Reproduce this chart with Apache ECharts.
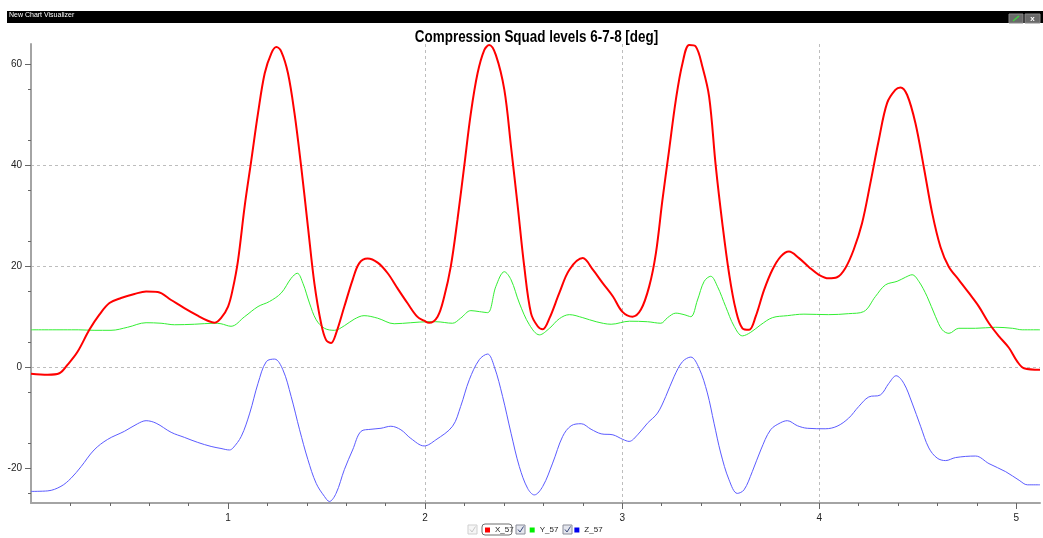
<!DOCTYPE html>
<html>
<head>
<meta charset="utf-8">
<script src="https://cdn.jsdelivr.net/npm/echarts@6/dist/echarts.min.js"></script>
<style>
html,body{margin:0;padding:0;background:#fff;}
#chart{width:1043px;height:538px;}
</style>
</head>
<body>
<div id="chart"></div>
<script>
// ---- data ----
const seriesNames = ['X_57', 'Y_57', 'Z_57'];
const chartTitle = 'Compression Squad levels 6-7-8 [deg]';

const xRed = [0.00,0.085,0.144,0.186,0.237,0.296,0.347,0.398,0.457,0.525,0.584,0.643,0.711,0.778,0.846,0.897,0.931,0.964,1.00,1.024,1.05,1.084,1.118,1.152,1.186,1.22,1.245,1.27,1.304,1.337,1.371,1.405,1.438,1.472,1.497,1.523,1.548,1.59,1.632,1.666,1.708,1.759,1.81,1.86,1.91,1.96,1.995,2.02,2.063,2.097,2.13,2.164,2.198,2.232,2.266,2.30,2.325,2.359,2.402,2.436,2.47,2.503,2.537,2.571,2.597,2.631,2.681,2.732,2.80,2.851,2.902,2.953,3.00,3.052,3.095,3.137,3.171,3.204,3.238,3.272,3.306,3.34,3.373,3.407,3.441,3.475,3.508,3.542,3.576,3.61,3.644,3.677,3.72,3.762,3.804,3.846,3.897,3.948,3.998,4.047,4.09,4.132,4.174,4.217,4.259,4.302,4.344,4.386,4.412,4.446,4.488,4.53,4.573,4.615,4.657,4.708,4.759,4.81,4.861,4.912,4.963,5.005,5.039,5.12];
const yRed = [-1.3,-1.5,-1.2,0.5,3.1,7.4,10.4,12.7,13.7,14.5,15.0,14.9,13.3,11.7,10.2,9.2,8.8,9.7,12.0,15.5,21.0,31.8,41.0,50.3,58.2,62.2,63.4,62.5,58.2,50.3,39.7,27.9,16.6,8.7,5.4,4.8,6.7,12.0,17.3,20.6,21.5,20.7,18.6,15.6,12.7,10.0,9.2,8.8,10.0,14.0,19.9,29.2,39.7,50.3,58.2,62.8,63.8,61.8,54.9,43.6,31.8,19.9,10.7,8.1,7.5,9.7,14.7,19.3,21.6,19.3,16.6,14.0,11.0,10.0,11.4,16.0,22.6,33.1,43.0,52.9,60.2,63.8,63.5,59.5,53.6,39.7,28.5,18.6,11.4,7.7,7.4,10.0,15.3,19.3,21.9,22.9,21.6,19.8,18.3,17.6,17.8,19.6,23.2,28.5,36.4,45.0,52.3,54.9,55.4,53.9,48.3,39.7,30.5,23.8,19.9,17.3,14.7,12.0,8.7,6.1,3.8,1.1,-0.2,-0.5];

const xGreen = [0,0.24,0.32,0.406,0.49,0.584,0.66,0.728,0.829,0.93,0.964,1.015,1.084,1.152,1.21,1.27,1.32,1.351,1.38,1.413,1.447,1.489,1.54,1.59,1.64,1.69,1.759,1.843,1.927,2.012,2.054,2.139,2.18,2.232,2.275,2.317,2.359,2.402,2.436,2.478,2.529,2.58,2.631,2.681,2.732,2.80,2.868,2.944,3.037,3.128,3.196,3.23,3.272,3.314,3.348,3.382,3.416,3.449,3.483,3.525,3.568,3.61,3.652,3.703,3.762,3.838,3.922,4.047,4.149,4.225,4.285,4.336,4.395,4.437,4.471,4.505,4.547,4.59,4.624,4.658,4.708,4.793,4.895,4.98,5.03,5.12];
const yGreen = [7.4,7.4,7.3,7.3,7.9,8.8,8.7,8.4,8.5,8.7,8.6,8.1,10.0,12.0,13.0,14.7,17.6,18.6,16.6,12.7,9.4,7.7,7.3,8.2,9.5,10.2,9.7,8.6,8.8,9.0,9.0,8.7,9.7,11.2,11.0,10.8,16.0,18.9,17.3,12.7,8.4,6.4,7.7,9.6,10.4,9.8,9.0,8.5,9.1,9.0,8.7,9.8,10.7,10.4,10.0,13.3,17.0,18.0,16.0,12.0,8.1,6.2,6.9,8.4,9.8,10.2,10.5,10.4,10.6,11.0,14.0,16.3,17.0,17.8,18.3,17.0,14.0,10.0,7.4,6.7,7.7,7.7,7.9,7.7,7.4,7.4];

const xBlue = [0,0.085,0.152,0.203,0.254,0.32,0.389,0.474,0.541,0.584,0.635,0.711,0.778,0.846,0.914,0.964,1.007,1.025,1.067,1.11,1.152,1.194,1.236,1.278,1.32,1.363,1.405,1.447,1.489,1.514,1.548,1.59,1.632,1.675,1.725,1.776,1.826,1.877,1.927,1.995,2.054,2.139,2.18,2.224,2.275,2.317,2.351,2.393,2.436,2.478,2.52,2.554,2.597,2.647,2.698,2.741,2.792,2.842,2.893,2.953,3.003,3.035,3.078,3.128,3.179,3.221,3.264,3.306,3.348,3.39,3.432,3.466,3.50,3.542,3.584,3.618,3.66,3.703,3.753,3.804,3.838,3.889,3.939,4.03,4.09,4.149,4.20,4.251,4.31,4.353,4.39,4.429,4.471,4.514,4.556,4.598,4.641,4.692,4.793,4.861,4.946,5.014,5.056,5.12];
const yBlue = [-24.6,-24.5,-23.6,-22.0,-19.7,-16.4,-14.3,-12.7,-11.2,-10.6,-11.1,-12.9,-13.9,-14.9,-15.7,-16.1,-16.4,-16.0,-13.7,-9.1,-3.2,1.1,1.6,-0.5,-5.8,-12.4,-18.3,-23.0,-25.6,-26.6,-25.0,-20.3,-16.4,-12.7,-12.3,-12.1,-11.7,-12.4,-14.1,-15.6,-14.4,-11.7,-7.8,-2.5,1.5,2.6,0.1,-5.8,-13.1,-19.7,-24.0,-25.3,-23.6,-19.0,-13.7,-11.6,-11.2,-12.3,-13.2,-13.4,-14.3,-14.7,-13.4,-11.1,-9.1,-5.8,-1.8,1.1,2.0,-0.2,-5.1,-11.1,-17.0,-22.3,-25.0,-24.3,-20.7,-16.4,-12.4,-11.0,-10.6,-11.6,-12.1,-12.2,-11.7,-10.1,-7.8,-5.9,-5.5,-3.2,-1.7,-3.2,-7.1,-11.7,-16.0,-18.0,-18.5,-17.9,-17.6,-19.1,-20.7,-22.4,-23.3,-23.3];

const xTickLabels = [1, 2, 3, 4, 5];
const xMinorTicks = [0.2,0.4,0.6,0.8,1.2,1.4,1.6,1.8,2.2,2.4,2.6,2.8,3.2,3.4,3.6,3.8,4.2,4.4,4.6,4.8];
const yTickLabels = [-20, 0, 20, 40, 60];
const yMinorTicks = [-25,-15,-5,5,15,25,35,45,55];
const xRange = [0, 5.12];
const yRange = [-26.9, 64];

// ---- build ----
const pairs = (xs, ys) => xs.map((x, i) => [x, ys[i]]);
const FONT = 'Liberation Sans';
const axisGrey = '#a4a4a4';
const gridGrey = '#bdbdbd';

function checkbox(x, y, enabled) {
  return {
    type: 'group', x: x, y: y, z: 10,
    children: [
      { type: 'rect', shape: { x: 0, y: 0, width: 9, height: 9 },
        style: { fill: enabled ? '#e4e6ee' : '#f6f6f6', stroke: enabled ? '#8a8d99' : '#cfcfcf', lineWidth: 1 } },
      { type: 'polyline', shape: { points: [[2, 4.5], [4, 7], [7.5, 1.5]] },
        style: { stroke: enabled ? '#3a4a7a' : '#c8c8c8', lineWidth: 1, fill: null } }
    ]
  };
}

const chart = echarts.init(document.getElementById('chart'), null, { renderer: 'canvas' });
chart.setOption({
  animation: false,
  backgroundColor: '#ffffff',
  legend: {
    data: seriesNames, left: 485, top: 526, padding: 0, icon: 'rect',
    itemWidth: 5, itemHeight: 5, itemGap: 16,
    textStyle: { fontFamily: FONT, fontSize: 8, color: '#222' },
    selectedMode: false
  },
  grid: { left: 31, right: 3, top: 44, bottom: 35, containLabel: false },
  xAxis: [{
    type: 'value', min: xRange[0], max: xRange[1], interval: 1, position: 'bottom',
    axisLine: { onZero: false, lineStyle: { color: axisGrey, width: 2 } },
    axisTick: { length: 6, customValues: xTickLabels, lineStyle: { color: '#666', width: 1 } },
    axisLabel: { customValues: xTickLabels, margin: 10, fontFamily: FONT, fontSize: 10, color: '#222' },
    splitLine: { show: true, showMinLine: false, showMaxLine: false, lineStyle: { color: gridGrey, type: [3, 3], width: 1 } }
  }, {
    type: 'value', min: xRange[0], max: xRange[1], position: 'bottom', offset: 0,
    axisLine: { show: false, onZero: false },
    axisTick: { show: true, length: 3, customValues: xMinorTicks, lineStyle: { color: '#666', width: 1 } },
    axisLabel: { show: false },
    splitLine: { show: false }
  }],
  yAxis: [{
    type: 'value', min: yRange[0], max: yRange[1], position: 'left',
    axisLine: { show: true, onZero: false, lineStyle: { color: axisGrey, width: 2 } },
    axisTick: { show: true, length: 6, customValues: yTickLabels, lineStyle: { color: '#666', width: 1 } },
    axisLabel: { customValues: yTickLabels, margin: 9, fontFamily: FONT, fontSize: 10, color: '#222' },
    splitLine: { show: true, showMinLine: false, showMaxLine: false, lineStyle: { color: gridGrey, type: [3, 3], width: 1 } }
  }, {
    type: 'value', min: yRange[0], max: yRange[1], position: 'left', offset: 0,
    axisLine: { show: false, onZero: false },
    axisTick: { show: true, length: 3, customValues: yMinorTicks, lineStyle: { color: '#666', width: 1 } },
    axisLabel: { show: false },
    splitLine: { show: false }
  }],
  series: [
    { name: seriesNames[0], type: 'line', data: pairs(xRed, yRed), showSymbol: false, smooth: 0.35, z: 4,
      itemStyle: { color: '#ff0000' }, lineStyle: { color: '#ff0000', width: 2 } },
    { name: seriesNames[1], type: 'line', data: pairs(xGreen, yGreen), showSymbol: false, smooth: 0.35, z: 3,
      itemStyle: { color: '#00ee00' }, lineStyle: { color: '#33ee33', width: 1 } },
    { name: seriesNames[2], type: 'line', data: pairs(xBlue, yBlue), showSymbol: false, smooth: 0.35, z: 3,
      itemStyle: { color: '#0000ee' }, lineStyle: { color: '#5b5bff', width: 1 } }
  ],
  graphic: [
    { type: 'rect', shape: { x: 7, y: 11, width: 1036, height: 12 }, style: { fill: '#000' }, z: 10 },
    { type: 'text', x: 9, y: 12, style: { text: 'New Chart Visualizer', fill: '#fff', font: '7px "Liberation Sans"' }, z: 11 },
    { type: 'rect', shape: { x: 1009, y: 14, width: 14, height: 9 }, style: { fill: '#6a6a6a', stroke: '#888' }, z: 11 },
    { type: 'line', shape: { x1: 1013, y1: 21, x2: 1019, y2: 16 }, style: { stroke: '#3fcf3f', lineWidth: 1.5 }, z: 12 },
    { type: 'rect', shape: { x: 1025, y: 14, width: 15, height: 9 }, style: { fill: '#6a6a6a', stroke: '#888' }, z: 11 },
    { type: 'text', x: 1032.5, y: 18.5, style: { text: 'x', fill: '#fff', font: 'bold 8px "Liberation Sans"', align: 'center', verticalAlign: 'middle' }, z: 12 },
    { type: 'text', x: 536.5, y: 37, scaleX: 0.79, scaleY: 1, z: 10,
      style: { text: chartTitle, fill: '#000', font: 'bold 17px "Liberation Sans"', align: 'center', verticalAlign: 'middle' } },
    checkbox(468, 525, false),
    checkbox(516, 525, true),
    checkbox(563, 525, true),
    { type: 'rect', shape: { x: 482, y: 524, width: 30, height: 11, r: 3 }, style: { fill: null, stroke: '#6e6e6e', lineWidth: 1 }, z: 10 }
  ]
});
</script>
</body>
</html>
